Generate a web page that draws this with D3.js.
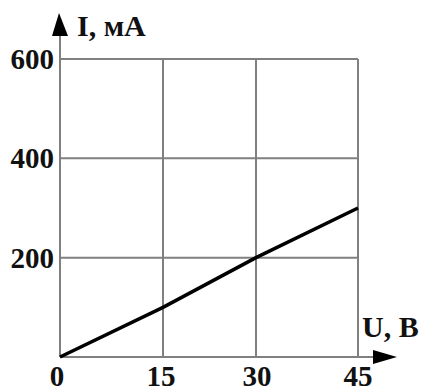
<!DOCTYPE html>
<html><head><meta charset="utf-8">
<script src="https://cdn.jsdelivr.net/npm/d3@7"></script>
<style>html,body{margin:0;padding:0;background:#fff;}svg{display:block;}</style>
</head><body><svg id="c" width="427" height="389"></svg>
<script>
const uTicks = [0, 15, 30, 45];
const iTicks = [200, 400, 600];
const uValues = [0, 15, 30, 45];
const iValues = [0, 100, 200, 300];
const xLabel = "U, B";
const yLabel = "I, мА";

const svg = d3.select("#c");
const x = d3.scaleLinear().domain([0, 15, 30, 45]).range([60, 163, 256, 358]);
const y = d3.scaleLinear().domain([0, 600]).range([357, 59]);
const font = "'Liberation Serif', 'Times New Roman', serif";
const grey = "#808080";

// grid
svg.append("g").selectAll("line").data(uTicks.slice(1)).join("line")
  .attr("x1", d => x(d)).attr("x2", d => x(d)).attr("y1", y(0)).attr("y2", y(600))
  .attr("stroke", grey).attr("stroke-width", 2);
svg.append("g").selectAll("line").data(iTicks).join("line")
  .attr("x1", x(0)).attr("x2", x(45)).attr("y1", d => y(d)).attr("y2", d => y(d))
  .attr("stroke", grey).attr("stroke-width", 2);

// axes
svg.append("line").attr("x1", x(0)).attr("x2", 380).attr("y1", y(0)).attr("y2", y(0))
  .attr("stroke", grey).attr("stroke-width", 2);
svg.append("line").attr("x1", x(0)).attr("x2", x(0)).attr("y1", y(0)).attr("y2", 30)
  .attr("stroke", grey).attr("stroke-width", 2);
// arrows
svg.append("path").attr("d", `M373,350 L397,357 L373,364 Z`).attr("fill", "#000");
svg.append("path").attr("d", `M52,36 L${x(0)-1},13 L68,36 Z`).attr("fill", "#000");

// data line
svg.append("path").datum(uValues.map((u, i) => [u, iValues[i]]))
  .attr("d", d3.line().x(d => x(d[0])).y(d => y(d[1])))
  .attr("fill", "none").attr("stroke", "#000").attr("stroke-width", 3.5);

// tick labels
const xOff = [-3, -2, 1, 0];
svg.append("g").selectAll("text").data(uTicks).join("text")
  .attr("x", (d, i) => x(d) + xOff[i]).attr("y", 386)
  .attr("text-anchor", "middle").attr("font-family", font).attr("font-weight", "bold")
  .attr("font-size", 29).attr("fill", "#111").text(d => d);
svg.append("g").selectAll("text").data(iTicks).join("text")
  .attr("x", 54).attr("y", d => y(d) + 10)
  .attr("text-anchor", "end").attr("font-family", font).attr("font-weight", "bold")
  .attr("font-size", 29).attr("fill", "#111").text(d => d);

// axis titles
svg.append("text").attr("x", 77).attr("y", 36).attr("font-family", font).attr("font-weight", "bold")
  .attr("font-size", 30).attr("fill", "#111").text(yLabel);
svg.append("text").attr("x", 362).attr("y", 337).attr("font-family", font).attr("font-weight", "bold")
  .attr("font-size", 30).attr("fill", "#111").text(xLabel);
</script></body></html>
